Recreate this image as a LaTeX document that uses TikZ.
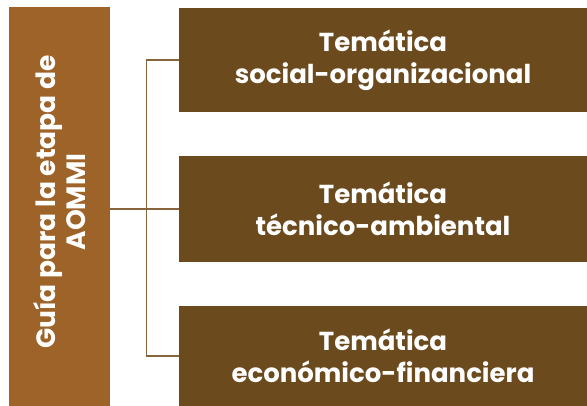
\documentclass[tikz,border=0pt]{standalone}
\usepackage{fontspec}
\setmainfont{Poppins}
\begin{document}
\begin{tikzpicture}[x=1pt,y=-1pt,
  leftbox/.style={fill=lbrown,draw=none,inner sep=0pt,minimum width=101pt,minimum height=399pt},
  rightbox/.style={fill=dbrown,draw=none,inner sep=0pt,minimum width=408pt,minimum height=104pt,
    text=white,align=center,font=\fontsize{26}{32}\selectfont\bfseries},
  conn/.style={draw=lineb,line width=1.8pt}]
\definecolor{lbrown}{RGB}{157,99,40}
\definecolor{dbrown}{RGB}{107,74,30}
\definecolor{lineb}{RGB}{135,100,60}
\useasboundingbox (0,0) rectangle (587,406);
\node[leftbox] (L) at (59.5,206.5) {};
\node[rotate=90,text=white,align=center,font=\fontsize{26.5}{30}\selectfont\bfseries] (LT) at (60,202) {Guía para la etapa de\\AOMMI};
\node[rightbox] (T) at (383,60) {Temática\\social-organizacional};
\node[rightbox,minimum height=106pt] (M) at (383,209) {Temática\\técnico-ambiental};
\node[rightbox,minimum height=100pt] (B) at (383,356) {Temática\\económico-financiera};
\coordinate (bus) at (146.5,209);
\draw[conn] (L.east |- M.west) -- (M.west);
\draw[conn] (T.west) -| (bus) |- (B.west);
\end{tikzpicture}
\end{document}
